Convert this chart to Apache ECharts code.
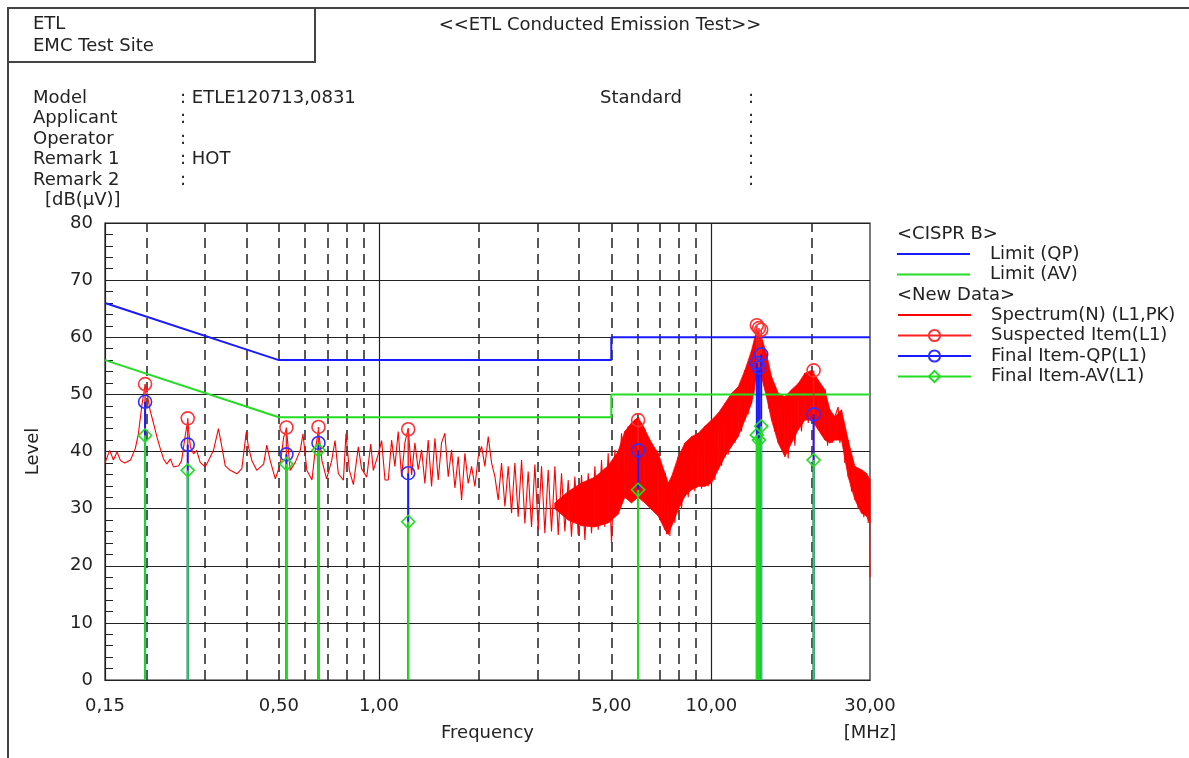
<!DOCTYPE html>
<html><head><meta charset="utf-8">
<script src="https://cdn.jsdelivr.net/npm/echarts@6/dist/echarts.min.js"></script>
<style>html,body{margin:0;padding:0;background:#fff}#c{width:1189px;height:758px}</style>
</head><body><div id="c"></div>
<script>
const FONT = 'DejaVu Sans';
const FS = 18;
const TXT = '#222';

// ---- axis ticks / grid positions (MHz) ----
const xTickLabels = [0.15, 0.5, 1, 5, 10, 30];
const xMajorGrid = [1, 10];
const xMinorGrid = [0.2, 0.3, 0.4, 0.5, 0.6, 0.7, 0.8, 0.9, 2, 3, 4, 5, 6, 7, 8, 9, 20];

// ---- CISPR B limits ----
const limitFreq = [0.15, 0.5, 5, 5, 30];
const limitQPLevel = [66, 56, 56, 60, 60];
const limitAVLevel = [56, 46, 46, 50, 50];

// ---- spectrum (peak) trace ----
const specFreq = [
 0.150,0.155,0.159,0.163,0.167,0.172,0.179,0.185,0.189,0.194,0.198,0.200,0.205,0.210,0.215,0.220,0.225,0.230,0.236,0.241,
 0.250,0.255,0.261,0.266,0.271,0.277,0.283,0.290,0.300,0.307,0.318,0.329,0.337,0.345,0.357,0.374,0.387,0.399,0.405,0.415,
 0.429,0.450,0.460,0.471,0.488,0.505,0.517,0.527,0.541,0.560,0.580,0.591,0.607,0.629,0.643,0.658,0.674,0.696,0.721,0.738,
 0.755,0.782,0.796,0.815,0.838,0.867,0.887,0.919,0.945,0.962,0.996,1.019,1.043,
 1.067,1.092,1.117,1.143,1.170,1.197,1.225,1.254,1.283,1.313,1.344,1.375,1.407,1.440,1.474,1.508,1.543,1.579,1.616,1.654,
 1.693,1.732,1.773,1.814,1.856,1.900,1.944,1.990,2.036,2.083,2.132,2.182,2.233,2.285,2.338,2.393,2.449,2.506,2.564,2.624,
 2.686,2.748,2.812,2.878,2.945,3.014,3.084,3.156,3.230,3.305,3.383,3.462,3.542,3.625,3.710,3.796,3.885,3.976,4.069,4.164,
 4.261,4.360,4.462,4.566,4.673,4.782,4.893,5.008,5.125,5.244,5.367,5.492,5.620,5.751,5.886,6.023,6.164,
 6.310,6.457,6.607,6.762,6.920,7.084,7.248,7.333,7.417,7.504,7.590,7.767,7.950,8.135,8.325,8.519,8.717,8.920,9.129,9.342,
 9.561,9.783,10.01,10.24,10.48,10.73,10.98,11.24,11.50,11.77,12.04,12.32,12.61,12.90,13.21,13.42,13.67,13.90,14.15,14.39,
 14.65,14.89,15.17,15.52,15.89,16.26,16.64,17.02,17.42,17.83,18.25,18.67,19.11,19.56,20.01,20.48,20.96,21.44,21.95,22.36,
 22.72,23.09,23.52,24.07,24.35,24.92,25.20,25.79,26.40,27.01,27.64,28.28,28.74,29.28,29.63,29.90,30.00
];
const specLevel = [
 38.0,40.2,38.5,39.9,38.4,38.0,38.5,40.5,43.1,48.4,51.6,50.7,47.2,44.9,42.5,40.5,38.7,37.8,38.7,37.3,
 37.5,38.4,42.5,45.4,40.8,39.6,40.2,38.1,37.3,38.4,40.2,44.0,40.8,37.5,36.7,36.1,37.0,43.4,40.8,38.4,
 36.7,37.8,41.1,38.4,35.2,37.8,42.5,44.0,36.7,38.1,40.2,43.1,36.7,35.0,40.2,43.7,38.4,35.2,38.4,41.9,
 36.1,35.0,43.1,36.7,34.2,40.8,37.0,35.5,41.3,36.7,39.6,41.9,35.0,
 35.0,42.0,37.4,43.5,35.6,41.5,44.1,35.9,41.5,36.8,40.3,34.4,42.0,33.9,42.3,35.0,41.5,43.2,35.6,40.3,
 33.6,39.1,31.5,39.7,34.4,37.4,33.9,39.1,40.9,37.4,42.6,38.0,35.6,31.5,38.0,30.4,37.4,29.2,38.0,28.6,
 38.5,27.4,36.5,26.8,37.7,26.3,37.4,25.7,36.8,26.0,37.4,25.4,36.2,26.0,35.0,25.1,35.6,25.4,35.9,24.5,
 36.2,25.7,37.4,26.3,38.5,26.8,39.7,24.0,40.3,31.5,43.2,34.4,44.4,37.4,45.6,35.6,45.0,
 43.8,30.5,41.5,29.5,39.7,27.8,36.2,25.5,34.5,25.2,35.6,27.5,39.1,30.0,41.5,32.0,42.6,33.0,43.2,33.5,
 44.4,33.9,45.5,35.0,46.7,37.5,48.4,39.5,50.2,41.5,51.3,43.5,54.2,46.5,57.7,50.0,61.2,53.0,60.0,51.5,
 57.1,47.5,53.1,43.5,50.2,40.5,49.6,38.8,50.8,41.0,51.9,43.5,53.7,45.0,54.2,45.0,52.5,43.0,50.8,41.0,
 47.3,41.5,46.1,47.8,41.5,45.0,38.0,42.0,33.0,37.4,30.0,36.8,28.5,36.2,27.5,35.1,18.0
];

// ---- dense part of the spectrum: solid band between lower and upper envelope ----
const bandFreq = [3.38,3.71,4.07,4.46,4.89,5.24,5.49,5.75,6.02,6.31,6.61,6.92,7.25,7.42,7.59,7.95,8.33,8.72,9.13,9.56,
 10.01,10.48,10.98,11.50,12.04,12.61,13.21,13.67,14.15,14.65,15.17,15.89,16.64,17.42,18.25,19.11,20.01,20.96,21.95,22.72,
 23.52,24.63,25.79,27.01,28.28,29.28,30.00];
const bandLow = [30.0,28.0,27.0,26.8,27.5,29.0,32.0,31.0,32.0,31.0,29.8,28.7,26.3,25.5,26.9,29.8,32.2,33.3,33.9,33.9,
 34.5,36.8,39.1,40.9,42.6,45.5,48.4,53.1,53.1,49.6,45.5,41.5,39.1,41.5,43.8,45.5,45.5,43.8,42.0,41.5,
 42.0,42.0,35.6,31.6,29.2,28.7,27.5];
const bandHigh = [31.0,33.0,34.5,35.5,37.5,40.0,43.5,45.0,46.0,43.8,41.5,39.7,36.2,34.5,35.6,39.1,41.5,42.6,43.2,44.4,
 45.5,46.7,48.4,50.2,51.3,54.2,57.7,61.2,60.0,57.1,53.1,50.2,49.6,50.8,51.9,53.7,54.2,52.5,50.8,47.3,
 46.1,47.3,42.0,37.4,36.8,36.2,35.1];

// ---- measured items ----
const itemFreq  = [0.198, 0.266, 0.527, 0.658, 1.225, 6.02, 13.70, 13.90, 14.12, 20.30];
const suspLevel = [51.8, 45.8, 44.2, 44.3, 43.9, 45.5, 62.1, 61.6, 61.3, 54.2];
const qpLevel   = [48.7, 41.2, 39.5, 41.5, 36.2, 40.2, 55.5, 54.7, 57.0, 46.5];
const avLevel   = [42.8, 36.7, 37.8, 40.2, 27.7, 33.3, 42.9, 42.0, 44.4, 38.5];

const zip = (xs, ys) => xs.map((x, i) => [x, ys[i]]);
function stems(levels) {
  const d = [];
  itemFreq.forEach((f, i) => {
    d.push({ value: [f, 0], symbol: 'none' });
    d.push({ value: [f, levels[i]] });
    d.push({ value: [f, '-'], symbol: 'none' });
  });
  return d;
}
const bandData = bandFreq.slice(0, -1).map((f, i) =>
  [f, bandLow[i], bandHigh[i], bandFreq[i + 1], bandLow[i + 1], bandHigh[i + 1]]);

const chart = echarts.init(document.getElementById('c'), null, { renderer: 'canvas' });
const tStyle = { fontFamily: FONT, fontSize: FS, color: TXT };
function txt(x, y, s, align) {
  return { type: 'text', x: x, y: y, silent: true,
    style: { text: s, font: FS + 'px "' + FONT + '"', fill: TXT, align: align || 'left', verticalAlign: 'middle' } };
}
const LINE_ICON = 'path://M0 0H73V2H0Z';
const legendText = { fontFamily: FONT, fontSize: FS, color: TXT, lineHeight: 20, padding: [0, 0, 0, 15] };
function hollow(c) { return { color: 'rgba(255,255,255,0)', borderColor: c, borderWidth: 1.6 }; }

const option = {
  animation: false,
  backgroundColor: '#fff',
  grid: { left: 105, right: 319, top: 223, bottom: 78, show: true, borderColor: '#222', borderWidth: 1.2, backgroundColor: 'transparent' },
  xAxis: {
    type: 'log', logBase: 10, min: 0.15, max: 30,
    axisLine: { show: true, lineStyle: { color: '#222', width: 1.2 } },
    axisTick: { show: false },
    splitLine: { show: false },
    axisLabel: { customValues: xTickLabels, formatter: v => Number(v).toFixed(2).replace('.', ','),
      fontFamily: FONT, fontSize: FS, color: TXT, margin: 17 },
    name: 'Frequency', nameLocation: 'middle', nameGap: 44, nameTextStyle: tStyle
  },
  yAxis: {
    type: 'value', min: 0, max: 80, interval: 10,
    axisLine: { show: true, lineStyle: { color: '#222', width: 1.2 } },
    axisTick: { show: true, inside: true, length: 8, lineStyle: { color: '#222' } },
    minorTick: { show: true, splitNumber: 5, length: 8, lineStyle: { color: '#222' } },
    splitLine: { show: true, lineStyle: { color: '#222', width: 1.2 } },
    axisLabel: { fontFamily: FONT, fontSize: FS, color: TXT, margin: 12 },
    name: 'Level', nameLocation: 'middle', nameRotate: 90, nameGap: 63, nameTextStyle: tStyle
  },
  legend: [
    { data: [{ name: 'Limit (QP)', icon: LINE_ICON }, { name: 'Limit (AV)', icon: LINE_ICON }],
      orient: 'vertical', left: 897, top: 244, padding: 0,
      itemWidth: 73, itemHeight: 14, itemGap: 0.5, selectedMode: false, textStyle: legendText },
    { data: [{ name: 'Spectrum(N) (L1,PK)', icon: LINE_ICON }, 'Suspected Item(L1)', 'Final Item-QP(L1)', 'Final Item-AV(L1)'],
      orient: 'vertical', left: 897, top: 305, padding: 0,
      itemWidth: 73, itemHeight: 14, itemGap: 0.5, selectedMode: false, textStyle: legendText }
  ],
  graphic: [
    { type: 'line', silent: true, shape: { x1: 8, y1: 8, x2: 1189, y2: 8 }, style: { stroke: '#444', lineWidth: 2 } },
    { type: 'line', silent: true, shape: { x1: 8, y1: 8, x2: 8, y2: 758 }, style: { stroke: '#444', lineWidth: 2 } },
    { type: 'rect', silent: true, shape: { x: 8, y: 8, width: 307, height: 54 }, style: { stroke: '#444', lineWidth: 2, fill: 'none' } },
    txt(33, 24, 'ETL'),
    txt(33, 46, 'EMC Test Site'),
    txt(600, 25, '<<ETL Conducted Emission Test>>', 'center'),
    txt(33, 98, 'Model'), txt(33, 118, 'Applicant'), txt(33, 139, 'Operator'), txt(33, 159, 'Remark 1'), txt(33, 180, 'Remark 2'),
    txt(180, 98, ': ETLE120713,0831'), txt(180, 118, ':'), txt(180, 139, ':'), txt(180, 159, ': HOT'), txt(180, 180, ':'),
    txt(600, 98, 'Standard'),
    txt(748, 98, ':'), txt(748, 118, ':'), txt(748, 139, ':'), txt(748, 159, ':'), txt(748, 180, ':'),
    txt(45, 200, '[dB(μV)]'),
    txt(897, 234, '<CISPR B>'),
    txt(897, 295, '<New Data>'),
    txt(870, 733, '[MHz]', 'center')
  ],
  series: [
    { name: 'band', type: 'custom', data: bandData, silent: true, z: 2,
      encode: { x: [0, 3], y: [1, 2, 4, 5] },
      renderItem: (params, api) => {
        const a = api.coord([api.value(0), api.value(1)]);
        const b = api.coord([api.value(0), api.value(2)]);
        const c = api.coord([api.value(3), api.value(5)]);
        const d = api.coord([api.value(3), api.value(4)]);
        return { type: 'polygon', shape: { points: [a, b, c, d] },
          style: { fill: '#ff0000', stroke: '#ff0000', lineWidth: 0.8 } };
      } },
    { name: 'Spectrum(N) (L1,PK)', type: 'line', data: zip(specFreq, specLevel), symbol: 'none', z: 3,
      color: '#ff0000', lineStyle: { color: '#ff0000', width: 1.1 },
      markLine: { silent: true, symbol: ['none', 'none'], label: { show: false }, z: 1, animation: false,
        emphasis: { disabled: true },
        data: xMinorGrid.map(v => ({ xAxis: v, lineStyle: { type: [10, 6], color: '#222', width: 1.5 } }))
          .concat(xMajorGrid.map(v => ({ xAxis: v, lineStyle: { type: 'solid', color: '#222', width: 1.2 } }))) } },
    { name: 'Limit (QP)', type: 'line', data: zip(limitFreq, limitQPLevel), symbol: 'none', z: 4,
      color: '#1a1aff', lineStyle: { color: '#1a1aff', width: 2 } },
    { name: 'Limit (AV)', type: 'line', data: zip(limitFreq, limitAVLevel), symbol: 'none', z: 4,
      color: '#22dd22', lineStyle: { color: '#22dd22', width: 2 } },
    { name: 'Suspected Item(L1)', type: 'line', data: stems(suspLevel), symbol: 'circle', symbolSize: 13,
      showSymbol: true, connectNulls: false, z: 5, color: '#ff3333',
      itemStyle: hollow('#ff3333'), lineStyle: { color: '#ff2020', width: 1.5 } },
    { name: 'Final Item-QP(L1)', type: 'line', data: stems(qpLevel), symbol: 'circle', symbolSize: 13,
      showSymbol: true, connectNulls: false, z: 6, color: '#3030ff',
      itemStyle: hollow('#3030ff'), lineStyle: { color: '#1a1aff', width: 2 } },
    { name: 'Final Item-AV(L1)', type: 'line', data: stems(avLevel), symbol: 'diamond', symbolSize: 13,
      showSymbol: true, connectNulls: false, z: 7, color: '#22dd22',
      itemStyle: hollow('#22dd22'), lineStyle: { color: '#22dd22', width: 2 } }
  ]
};
chart.setOption(option);
</script>
</body></html>
